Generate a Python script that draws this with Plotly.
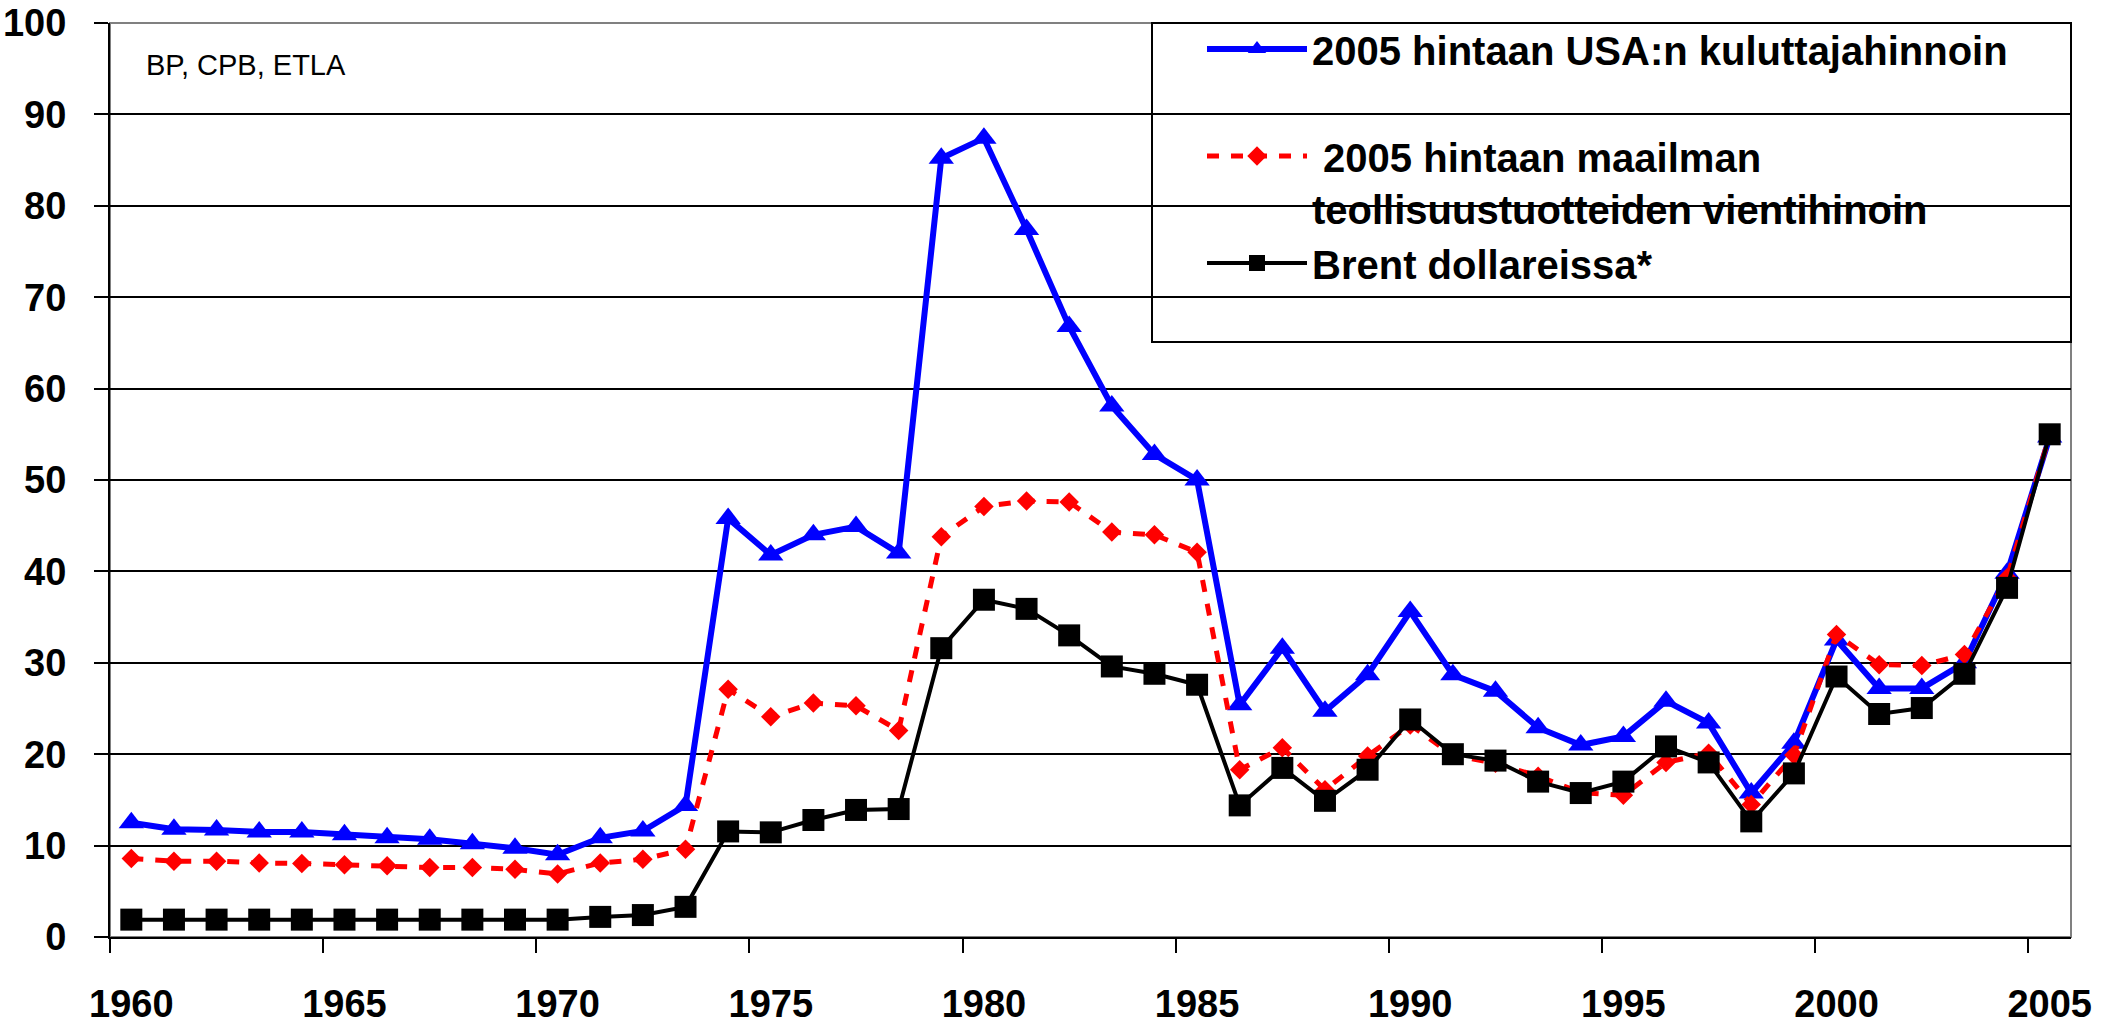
import plotly.graph_objects as go

years = list(range(1960, 2006))

usa_cpi = [12.5, 11.8, 11.7, 11.5, 11.5, 11.2, 10.85, 10.7, 10.2, 9.7,
           9.0, 10.85, 11.6, 14.4, 45.8, 41.8, 44.0, 44.9, 42.0, 85.2,
           87.4, 77.4, 66.8, 58.1, 52.8, 50.0, 25.4, 31.6, 24.7, 28.7,
           35.6, 28.7, 26.9, 22.9, 21.0, 21.95, 25.8, 23.4, 15.75, 21.2,
           32.5, 27.2, 27.2, 30.0, 39.8, 54.7]

world_export = [8.6, 8.3, 8.3, 8.1, 8.05, 7.9, 7.8, 7.6, 7.6, 7.4,
                6.9, 8.1, 8.5, 9.6, 27.1, 24.1, 25.6, 25.3, 22.6, 43.8,
                47.1, 47.7, 47.6, 44.3, 44.0, 42.1, 18.3, 20.7, 16.1, 19.8,
                23.2, 19.9, 19.0, 17.6, 15.8, 15.5, 19.1, 20.1, 14.5, 19.9,
                33.1, 29.8, 29.7, 30.9, 39.3, 54.9]

brent_usd = [1.9, 1.9, 1.9, 1.9, 1.9, 1.9, 1.9, 1.9, 1.9, 1.9,
             1.9, 2.2, 2.4, 3.3, 11.55, 11.45, 12.8, 13.9, 14.0, 31.6,
             36.9, 35.9, 33.0, 29.6, 28.8, 27.6, 14.4, 18.5, 14.9, 18.3,
             23.8, 20.0, 19.3, 17.0, 15.75, 17.0, 20.85, 19.1, 12.65, 17.9,
             28.5, 24.4, 25.05, 28.8, 38.2, 55.0]

names = ["2005 hintaan USA:n kuluttajahinnoin<br>\u00a0",
         "\u00a02005 hintaan maailman<br>teollisuustuotteiden vientihinoin",
         "Brent dollareissa*<br>\u00a0"]

x_labels = [1960, 1965, 1970, 1975, 1980, 1985, 1990, 1995, 2000, 2005]
x_boundaries = [v - 0.5 for v in x_labels]
y_ticks = list(range(0, 101, 10))
source_note = "BP, CPB, ETLA"

FONT = "Liberation Sans, Arial, sans-serif"

fig = go.Figure()
fig.add_trace(go.Scatter(
    x=years, y=usa_cpi, name=names[0], mode="lines+markers",
    line=dict(color="#0000FF", width=6),
    marker=dict(symbol="triangle-up", size=22, color="#0000FF"),
))
fig.add_trace(go.Scatter(
    x=years, y=world_export, name=names[1], mode="lines+markers",
    line=dict(color="#FF0000", width=5, dash="12px,12px"),
    marker=dict(symbol="diamond", size=15, color="#FF0000"),
))
fig.add_trace(go.Scatter(
    x=years, y=brent_usd, name=names[2], mode="lines+markers",
    line=dict(color="#000000", width=4),
    marker=dict(symbol="square", size=22, color="#000000"),
))

L, R, T, B = 110, 47, 23, 89
W, H = 2118, 1026
PW, PH = W - L - R, H - T - B

fig.update_layout(
    width=W, height=H, autosize=False,
    margin=dict(l=L, r=R, t=T, b=B, pad=0, autoexpand=False),
    paper_bgcolor="white", plot_bgcolor="white",
    font=dict(family=FONT, color="black"),
    showlegend=True,
    legend=dict(
        x=(1202 - L) / PW, xanchor="left",
        y=1 + 6.5 / PH, yanchor="top",
        bgcolor="rgba(0,0,0,0)", borderwidth=0,
        font=dict(family=FONT, size=40, color="black", weight="bold"),
        itemwidth=100, valign="top", tracegroupgap=0,
        itemclick=False,
    ),
    annotations=[dict(
        text=source_note, xref="paper", yref="paper",
        x=(144 - L) / PW, y=1 - (65 - T) / PH,
        xanchor="left", yanchor="middle", showarrow=False,
        font=dict(family=FONT, size=29, color="black"),
    )],
    shapes=[
        dict(type="rect", xref="paper", yref="paper", x0=0, x1=1, y0=0, y1=1,
             line=dict(color="#808080", width=2), layer="below"),
        dict(type="rect", xref="paper", yref="paper",
             x0=(1152 - L) / PW, x1=1, y0=1 - (342 - T) / PH, y1=1,
             fillcolor="white", line=dict(color="black", width=2),
             layer="between"),
    ],
)

fig.update_xaxes(
    range=[1959.5, 2005.5], automargin=False,
    tickmode="array", tickvals=x_labels, ticktext=[str(v) for v in x_labels],
    ticks="outside", ticklen=32, tickcolor="rgba(0,0,0,0)",
    tickfont=dict(family=FONT, size=38, color="black", weight="bold"),
    showgrid=False, zeroline=False,
    showline=True, linecolor="black", linewidth=2,
    minor=dict(tickmode="array", tickvals=x_boundaries, ticks="outside",
               ticklen=14, tickwidth=2, tickcolor="black", showgrid=False),
)
fig.update_yaxes(
    range=[0, 100], automargin=False,
    tickmode="array", tickvals=y_ticks,
    ticks="outside", ticklen=14, tickwidth=2, tickcolor="black",
    ticklabelstandoff=20,
    tickfont=dict(family=FONT, size=38, color="black", weight="bold"),
    showgrid=True, gridcolor="black", gridwidth=1.5,
    zeroline=False,
    showline=True, linecolor="black", linewidth=2,
)

fig.write_html("out.html",
               config={"displayModeBar": False},
               post_script="document.body.style.margin='0px';")
